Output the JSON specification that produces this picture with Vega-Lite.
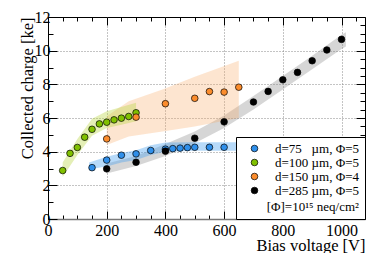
{
  "$schema": "https://vega.github.io/schema/vega-lite/v6.json",
  "width": 317,
  "height": 202,
  "autosize": "none",
  "padding": {"left": 48, "top": 17, "right": 9, "bottom": 34},
  "background": "white",
  "config": {
    "view": {"stroke": "black", "strokeWidth": 1},
    "font": "Liberation Serif",
    "axis": {"labelFont": "Liberation Serif", "titleFont": "Liberation Serif", "tickColor": "black", "labelColor": "black", "titleColor": "black", "titleFontWeight": "normal"}
  },
  "datasets": {
    "points": [
      {"s": "d=75\u2007 µm, Φ=5", "v": 150, "q": 3.05},
      {"s": "d=75\u2007 µm, Φ=5", "v": 200, "q": 3.5},
      {"s": "d=75\u2007 µm, Φ=5", "v": 250, "q": 3.79},
      {"s": "d=75\u2007 µm, Φ=5", "v": 300, "q": 3.87},
      {"s": "d=75\u2007 µm, Φ=5", "v": 350, "q": 4.07},
      {"s": "d=75\u2007 µm, Φ=5", "v": 400, "q": 4.15},
      {"s": "d=75\u2007 µm, Φ=5", "v": 425, "q": 4.18},
      {"s": "d=75\u2007 µm, Φ=5", "v": 450, "q": 4.21},
      {"s": "d=75\u2007 µm, Φ=5", "v": 475, "q": 4.24},
      {"s": "d=75\u2007 µm, Φ=5", "v": 500, "q": 4.26},
      {"s": "d=75\u2007 µm, Φ=5", "v": 550, "q": 4.26},
      {"s": "d=75\u2007 µm, Φ=5", "v": 600, "q": 4.26},
      {"s": "d=100 µm, Φ=5", "v": 50, "q": 2.88},
      {"s": "d=100 µm, Φ=5", "v": 75, "q": 3.9},
      {"s": "d=100 µm, Φ=5", "v": 100, "q": 4.25},
      {"s": "d=100 µm, Φ=5", "v": 125, "q": 4.86},
      {"s": "d=100 µm, Φ=5", "v": 150, "q": 5.33},
      {"s": "d=100 µm, Φ=5", "v": 175, "q": 5.65},
      {"s": "d=100 µm, Φ=5", "v": 200, "q": 5.75},
      {"s": "d=100 µm, Φ=5", "v": 225, "q": 5.89},
      {"s": "d=100 µm, Φ=5", "v": 250, "q": 5.99},
      {"s": "d=100 µm, Φ=5", "v": 275, "q": 6.09},
      {"s": "d=100 µm, Φ=5", "v": 300, "q": 6.31},
      {"s": "d=150 µm, Φ=4", "v": 200, "q": 4.76},
      {"s": "d=150 µm, Φ=4", "v": 300, "q": 6.05},
      {"s": "d=150 µm, Φ=4", "v": 400, "q": 6.85},
      {"s": "d=150 µm, Φ=4", "v": 500, "q": 7.17},
      {"s": "d=150 µm, Φ=4", "v": 550, "q": 7.57},
      {"s": "d=150 µm, Φ=4", "v": 600, "q": 7.54},
      {"s": "d=150 µm, Φ=4", "v": 650, "q": 7.83},
      {"s": "d=285 µm, Φ=5", "v": 200, "q": 2.98},
      {"s": "d=285 µm, Φ=5", "v": 300, "q": 3.37},
      {"s": "d=285 µm, Φ=5", "v": 400, "q": 4.03},
      {"s": "d=285 µm, Φ=5", "v": 500, "q": 4.8},
      {"s": "d=285 µm, Φ=5", "v": 600, "q": 5.77},
      {"s": "d=285 µm, Φ=5", "v": 700, "q": 6.95},
      {"s": "d=285 µm, Φ=5", "v": 750, "q": 7.58},
      {"s": "d=285 µm, Φ=5", "v": 800, "q": 8.27},
      {"s": "d=285 µm, Φ=5", "v": 850, "q": 8.71},
      {"s": "d=285 µm, Φ=5", "v": 900, "q": 9.4},
      {"s": "d=285 µm, Φ=5", "v": 950, "q": 10.04},
      {"s": "d=285 µm, Φ=5", "v": 1000, "q": 10.67}
    ],
    "bands": [
      {"s": "d=285 µm, Φ=5", "v": 200, "lo": 2.7, "hi": 3.3},
      {"s": "d=285 µm, Φ=5", "v": 300, "lo": 3.15, "hi": 3.75},
      {"s": "d=285 µm, Φ=5", "v": 400, "lo": 3.75, "hi": 4.45},
      {"s": "d=285 µm, Φ=5", "v": 500, "lo": 4.5, "hi": 5.2},
      {"s": "d=285 µm, Φ=5", "v": 600, "lo": 5.4, "hi": 6.15},
      {"s": "d=285 µm, Φ=5", "v": 700, "lo": 6.5, "hi": 7.3},
      {"s": "d=285 µm, Φ=5", "v": 800, "lo": 7.7, "hi": 8.5},
      {"s": "d=285 µm, Φ=5", "v": 900, "lo": 8.9, "hi": 9.7},
      {"s": "d=285 µm, Φ=5", "v": 1000, "lo": 10.1, "hi": 10.95},
      {"s": "d=285 µm, Φ=5", "v": 1015, "lo": 10.25, "hi": 11.1},
      {"s": "d=150 µm, Φ=4", "v": 200, "lo": 4.4, "hi": 6.1},
      {"s": "d=150 µm, Φ=4", "v": 275, "lo": 4.9, "hi": 7.0},
      {"s": "d=150 µm, Φ=4", "v": 390, "lo": 5.2, "hi": 7.7},
      {"s": "d=150 µm, Φ=4", "v": 500, "lo": 5.5, "hi": 8.45},
      {"s": "d=150 µm, Φ=4", "v": 650, "lo": 6.0, "hi": 9.4},
      {"s": "d=100 µm, Φ=5", "v": 50, "lo": 2.5, "hi": 3.35},
      {"s": "d=100 µm, Φ=5", "v": 100, "lo": 3.8, "hi": 4.75},
      {"s": "d=100 µm, Φ=5", "v": 150, "lo": 4.95, "hi": 5.95},
      {"s": "d=100 µm, Φ=5", "v": 200, "lo": 5.4, "hi": 6.4},
      {"s": "d=100 µm, Φ=5", "v": 250, "lo": 5.6, "hi": 6.65},
      {"s": "d=100 µm, Φ=5", "v": 300, "lo": 5.8, "hi": 6.9},
      {"s": "d=75\u2007 µm, Φ=5", "v": 140, "lo": 2.95, "hi": 3.35},
      {"s": "d=75\u2007 µm, Φ=5", "v": 200, "lo": 3.12, "hi": 3.7},
      {"s": "d=75\u2007 µm, Φ=5", "v": 250, "lo": 3.35, "hi": 3.92},
      {"s": "d=75\u2007 µm, Φ=5", "v": 300, "lo": 3.5, "hi": 4.08},
      {"s": "d=75\u2007 µm, Φ=5", "v": 350, "lo": 3.8, "hi": 4.38},
      {"s": "d=75\u2007 µm, Φ=5", "v": 400, "lo": 4.0, "hi": 4.54},
      {"s": "d=75\u2007 µm, Φ=5", "v": 500, "lo": 4.05, "hi": 4.56},
      {"s": "d=75\u2007 µm, Φ=5", "v": 650, "lo": 4.05, "hi": 4.56}
    ]
  },
  "layer": [
    {
      "data": {"name": "bands"},
      "transform": [{"filter": "datum.s === 'd=285 µm, Φ=5'"}],
      "mark": {"type": "area", "fill": "#8a8a8a", "opacity": 0.35},
      "encoding": {
        "x": {
          "field": "v", "type": "quantitative",
          "scale": {"domain": [0, 1080], "nice": false, "zero": false},
          "axis": {
            "orient": "bottom",
            "values": [0,50,100,150,200,250,300,350,400,450,500,550,600,650,700,750,800,850,900,950,1000,1050],
            "tickSize": {"condition": {"test": "datum.value % 200 === 0", "value": -8}, "value": -4},
            "labelExpr": "datum.value % 200 === 0 ? datum.label : ''",
            "labelOverlap": false,
            "labelFlush": false,
            "labelFontSize": 16,
            "labelPadding": 11,
            "format": "d",
            "grid": true,
            "gridColor": "#888",
            "gridDash": [1, 2],
            "gridOpacity": {"condition": {"test": "datum.value % 200 === 0 && datum.value > 0", "value": 1}, "value": 0},
            "domainColor": "#777",
            "domainWidth": 1.5,
            "title": "Bias voltage [V]",
            "titleAnchor": "end",
            "titleFontSize": 16.5,
            "titlePadding": -5
          }
        },
        "y": {
          "field": "lo", "type": "quantitative",
          "scale": {"domain": [0, 12], "nice": false, "zero": false},
          "axis": {
            "orient": "left",
            "values": [0,0.5,1,1.5,2,2.5,3,3.5,4,4.5,5,5.5,6,6.5,7,7.5,8,8.5,9,9.5,10,10.5,11,11.5,12],
            "tickSize": {"condition": {"test": "datum.value % 2 === 0", "value": -9}, "value": -5},
            "labelExpr": "datum.value % 2 === 0 ? datum.label : ''",
            "labelOverlap": false,
            "labelFlush": false,
            "labelFontSize": 16,
            "labelPadding": 7,
            "format": "d",
            "grid": true,
            "gridColor": "#888",
            "gridDash": [1, 2],
            "gridOpacity": {"condition": {"test": "datum.value % 2 === 0 && datum.value > 0 && datum.value < 12", "value": 1}, "value": 0},
            "domainColor": "black",
            "title": "Collected charge [ke]",
            "titleAnchor": "end",
            "titleFontSize": 16.5,
            "titlePadding": -1
          }
        },
        "y2": {"field": "hi"}
      }
    },
    {
      "data": {"name": "bands"},
      "transform": [{"filter": "datum.s === 'd=150 µm, Φ=4'"}],
      "mark": {"type": "area", "fill": "#f8a864", "opacity": 0.3},
      "encoding": {
        "x": {"field": "v", "type": "quantitative", "axis": null},
        "y": {"field": "lo", "type": "quantitative", "axis": null},
        "y2": {"field": "hi"}
      }
    },
    {
      "data": {"name": "bands"},
      "transform": [{"filter": "datum.s === 'd=100 µm, Φ=5'"}],
      "mark": {"type": "area", "fill": "#b8d640", "opacity": 0.38},
      "encoding": {
        "x": {"field": "v", "type": "quantitative", "axis": null},
        "y": {"field": "lo", "type": "quantitative", "axis": null},
        "y2": {"field": "hi"}
      }
    },
    {
      "data": {"name": "bands"},
      "transform": [{"filter": "datum.s === 'd=75\u2007 µm, Φ=5'"}],
      "mark": {"type": "area", "fill": "#4aa3f0", "opacity": 0.4},
      "encoding": {
        "x": {"field": "v", "type": "quantitative", "axis": null},
        "y": {"field": "lo", "type": "quantitative", "axis": null},
        "y2": {"field": "hi"}
      }
    },
    {
      "data": {"name": "points"},
      "mark": {"type": "point", "shape": "circle", "filled": true, "size": 44, "stroke": "black", "strokeWidth": 0.7, "opacity": 1},
      "encoding": {
        "x": {
          "field": "v", "type": "quantitative",
          "axis": {
            "orient": "top",
            "values": [0,50,100,150,200,250,300,350,400,450,500,550,600,650,700,750,800,850,900,950,1000,1050],
            "tickSize": {"condition": {"test": "datum.value % 200 === 0", "value": -8}, "value": -4},
            "labels": false, "grid": false, "domain": false, "title": null
          }
        },
        "y": {
          "field": "q", "type": "quantitative",
          "axis": {
            "orient": "right",
            "values": [0,0.5,1,1.5,2,2.5,3,3.5,4,4.5,5,5.5,6,6.5,7,7.5,8,8.5,9,9.5,10,10.5,11,11.5,12],
            "tickSize": {"condition": {"test": "datum.value % 2 === 0", "value": -9}, "value": -5},
            "labels": false, "grid": false, "domain": false, "title": null
          }
        },
        "color": {
          "field": "s", "type": "nominal",
          "scale": {"domain": ["d=75\u2007 µm, Φ=5", "d=100 µm, Φ=5", "d=150 µm, Φ=4", "d=285 µm, Φ=5"], "range": ["#2f8fea", "#80c000", "#fb8c2c", "#000000"]},
          "legend": {
            "orient": "bottom-right",
            "offset": 0,
            "title": "[Φ]=10¹⁵ neq/cm²",
            "titleOrient": "bottom",
            "titleAnchor": "end",
            "titleFont": "Liberation Serif",
            "titleFontSize": 13,
            "titleFontWeight": "normal",
            "titlePadding": 3,
            "labelFont": "Liberation Serif",
            "labelFontSize": 13,
            "labelOffset": 14,
            "symbolType": "circle",
            "symbolSize": 44,
            "symbolStrokeColor": "black",
            "symbolStrokeWidth": 0.7,
            "symbolOffset": 7,
            "rowPadding": 0,
            "padding": 5,
            "strokeColor": "black",
            "fillColor": "white"
          }
        }
      }
    }
  ],
  "resolve": {"axis": {"x": "independent", "y": "independent"}}
}
